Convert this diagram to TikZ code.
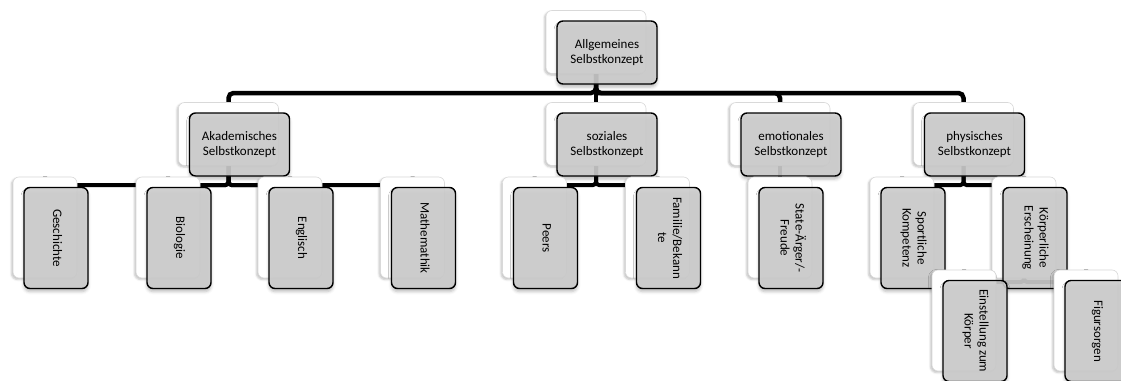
\documentclass[tikz,border=0pt]{standalone}
\usepackage{fontspec}
\setmainfont{Carlito}
\usepackage{graphicx}
\usetikzlibrary{shadows.blur,backgrounds}

\definecolor{frontgray}{RGB}{206,206,206}
% white card with a soft grey bevel on its left edge
\pgfdeclarehorizontalshading{bevel}{100bp}{color(0bp)=(gray!40); color(8bp)=(white); color(94bp)=(white); color(100bp)=(gray!12)}

\tikzset{
  backbox/.style={rectangle, rounded corners=6pt, inner sep=0pt,
    draw=gray!30, line width=0.6pt, shading=bevel,
    blur shadow={shadow xshift=-1.5pt, shadow yshift=-1.5pt,
      shadow blur radius=2pt, shadow opacity=25}},
  frontbox/.style={rectangle, rounded corners=6pt, inner sep=0pt,
    draw=black, line width=1.4pt, fill=frontgray, fill opacity=0.9,
    text opacity=1, text=black, align=center,
    font=\fontsize{13}{15}\selectfont,
    blur shadow={shadow xshift=0pt, shadow yshift=-3pt,
      shadow blur radius=3pt, shadow opacity=30}},
  hcard/.style={minimum width=100pt, minimum height=63pt},
  vcard/.style={minimum width=64pt, minimum height=101pt},
  conn/.style={line width=4pt, rounded corners=3pt},
  mainconn/.style={line width=4.5pt, rounded corners=5pt}
}

% rotated (top-to-bottom) label for the upright cards
\newcommand\rotlbl[1]{\rotatebox{-90}{\begin{tabular}{@{}c@{}}#1\end{tabular}}}
% a card: light back plate plus the grey front plate
\newcommand\card[5]{%
  \node[backbox,#4] (#1-b) at (#2-11,#3-10.5) {};
  \node[frontbox,#4] (#1) at (#2,#3) {#5};
}

\begin{document}
\begin{tikzpicture}[x=1pt,y=-1pt]
\useasboundingbox (0,0) rectangle (1121,380);

% top level
\card{root}{607}{52.5}{hcard}{Allgemeines\\Selbstkonzept}
% academic branch
\card{akad}{239.5}{144.5}{hcard}{Akademisches\\Selbstkonzept}
\card{ges}{56}{238}{vcard}{\rotlbl{Geschichte}}
\card{bio}{179}{238}{vcard}{\rotlbl{Biologie}}
\card{eng}{301}{238}{vcard}{\rotlbl{Englisch}}
\card{mat}{423.5}{238}{vcard}{\rotlbl{Mathemathik}}
% social branch
\card{soz}{607}{144.5}{hcard}{soziales\\Selbstkonzept}
\card{peers}{545.5}{238}{vcard}{\rotlbl{Peers}}
\card{fam}{668.5}{238}{vcard}{\rotlbl{Familie/Bekann\\te}}
% emotional branch
\card{emo}{791}{144.5}{hcard}{emotionales\\Selbstkonzept}
\card{state}{791}{238}{vcard}{\rotlbl{State-Ärger/-\\Freude}}
% physical branch
\card{phys}{974.5}{144.5}{hcard}{physisches\\Selbstkonzept}
\card{sport}{913}{238}{vcard}{\rotlbl{Sportliche\\Kompetenz}}
\card{koerp}{1035}{238}{vcard}{\rotlbl{Körperliche\\Erscheinung}}
\card{einst}{975}{331}{vcard}{\rotlbl{Einstellung zum\\Körper}}
\card{fig}{1097}{331}{vcard}{\rotlbl{Figursorgen}}

% connectors, behind all cards
\begin{pgfonlayer}{background}
  \coordinate (bus0) at (596,93);
  \draw[mainconn] (root-b.south) -- (bus0) -| (akad-b.north);
  \draw[mainconn] (root-b.south) -- (bus0) -| (phys-b.north);
  \draw[mainconn] (root-b.south) -- (soz-b.north);
  \draw[mainconn] (bus0) -| (emo-b.north);

  \coordinate (bus1) at (228.5,185);
  \foreach \c in {ges,bio,eng,mat}
    \draw[conn] (akad-b.south) -- (bus1) -| (\c-b.north);

  \coordinate (bus2) at (596,185);
  \foreach \c in {peers,fam}
    \draw[conn] (soz-b.south) -- (bus2) -| (\c-b.north);

  \draw[conn] (emo-b.south) -- (state-b.north);

  \coordinate (bus3) at (963.5,185);
  \foreach \c in {sport,koerp}
    \draw[conn] (phys-b.south) -- (bus3) -| (\c-b.north);

  \coordinate (bus4) at (1024,282);
  \foreach \c in {einst,fig}
    \draw[conn] (koerp-b.south) -- (bus4) -| (\c-b.north);
\end{pgfonlayer}
\end{tikzpicture}
\end{document}
